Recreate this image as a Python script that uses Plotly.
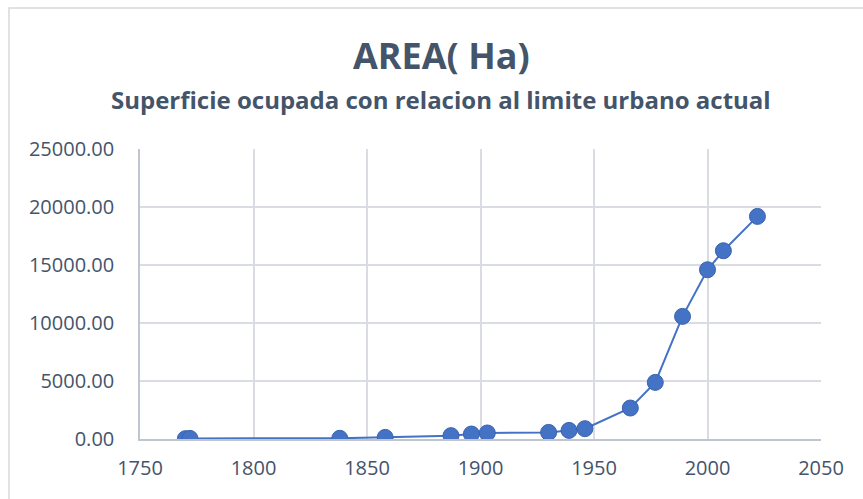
import plotly.graph_objects as go

# Year of each survey and occupied urban area (hectares)
years = [1770, 1772, 1838, 1858, 1887, 1896, 1903, 1930, 1939, 1946,
         1966, 1977, 1989, 2000, 2007, 2022]
area_ha = [30, 50, 60, 140, 290, 430, 520, 570, 740, 890,
           2670, 4880, 10570, 14590, 16230, 19190]

x_ticks = [1750, 1800, 1850, 1900, 1950, 2000, 2050]
y_ticks = [0, 5000, 10000, 15000, 20000, 25000]
y_tick_labels = [f"{v:.2f}" for v in y_ticks]

W, H = 863, 499
L, R, T, B = 140, 42, 149, 60
text_color = "#44546A"
grid_color = "#D9DDE3"
series_color = "#4472C4"
font_family = "Open Sans, Noto Sans, sans-serif"

fig = go.Figure()
fig.add_trace(go.Scatter(
    x=years, y=area_ha, mode="lines+markers",
    line=dict(color=series_color, width=2),
    marker=dict(size=16, color=series_color,
                line=dict(color="#3A63AE", width=1)),
    showlegend=False, hoverinfo="x+y",
))

pw, ph = W - L - R, H - T - B
fig.update_layout(
    width=W, height=H,
    margin=dict(l=L, r=R, t=T, b=B),
    paper_bgcolor="white", plot_bgcolor="white",
    font=dict(family=font_family, color=text_color),
    xaxis=dict(
        range=[1750, 2050], tickvals=x_ticks,
        showgrid=True, gridcolor=grid_color, gridwidth=1.5,
        showline=True, linecolor="#BFC6D1", linewidth=1.5,
        zeroline=False, ticks="", ticklen=0,
        tickfont=dict(size=20, color=text_color),
        ticklabelstandoff=10,
    ),
    yaxis=dict(
        range=[0, 25000], tickvals=y_ticks, ticktext=y_tick_labels,
        showgrid=True, gridcolor=grid_color, gridwidth=1.5,
        showline=True, linecolor="#BFC6D1", linewidth=1.5,
        zeroline=False, ticks="", ticklen=0,
        tickfont=dict(size=20, color=text_color),
        ticklabelstandoff=20,
    ),
    annotations=[
        dict(text="<b>AREA( Ha)</b>", xref="paper", yref="paper",
             x=(441 - L) / pw, y=(H - B - 55) / ph, showarrow=False,
             font=dict(size=36, color=text_color, family=font_family),
             xanchor="center", yanchor="middle"),
        dict(text="<b>Superficie ocupada con relacion al limite urbano actual</b>",
             xref="paper", yref="paper",
             x=(441 - L) / pw, y=(H - B - 99) / ph, showarrow=False,
             font=dict(size=24, color=text_color, family=font_family),
             xanchor="center", yanchor="middle"),
    ],
    shapes=[
        dict(type="rect", xref="paper", yref="paper", layer="below",
             x0=(9 - L) / pw, x1=(W + 20 - L) / pw,
             y0=(H - B - (H + 20)) / ph, y1=(H - B - 8) / ph,
             line=dict(color="#D9D9D9", width=1.5), fillcolor="rgba(0,0,0,0)"),
    ],
)

fig.write_html("out.html")
